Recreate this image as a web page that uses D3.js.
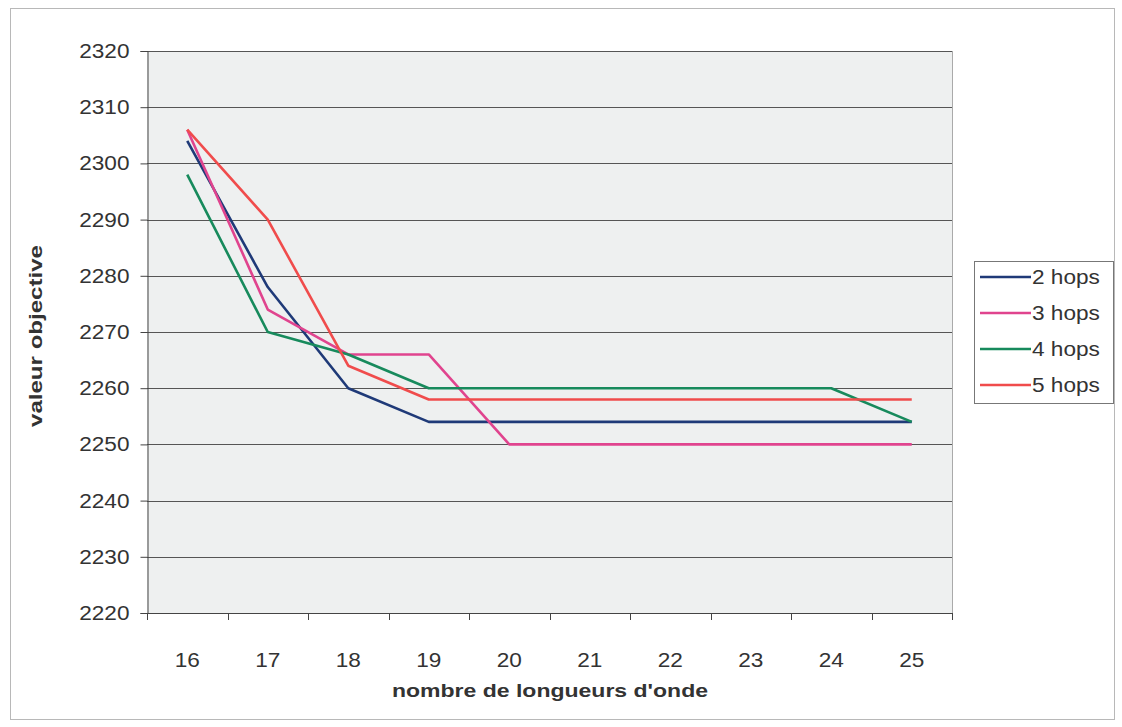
<!DOCTYPE html>
<html>
<head>
<meta charset="utf-8">
<script src="https://cdn.jsdelivr.net/npm/d3@7"></script>
<style>
  html, body { margin: 0; padding: 0; background: #ffffff; }
  svg { display: block; }
  text { font-family: "Liberation Sans", Arial, sans-serif; fill: #333; }
</style>
</head>
<body>
<svg id="chart" width="1122" height="727"></svg>
<script>
// Wavelength counts on the x axis
const categories = [16, 17, 18, 19, 20, 21, 22, 23, 24, 25];
// Objective value per number of hops
const hops2 = [2304, 2278, 2260, 2254, 2254, 2254, 2254, 2254, 2254, 2254];
const hops3 = [2306, 2274, 2266, 2266, 2250, 2250, 2250, 2250, 2250, 2250];
const hops4 = [2298, 2270, 2266, 2260, 2260, 2260, 2260, 2260, 2260, 2254];
const hops5 = [2306, 2290, 2264, 2258, 2258, 2258, 2258, 2258, 2258, 2258];
const seriesNames = ["2 hops", "3 hops", "4 hops", "5 hops"];
const yTicks = [2220, 2230, 2240, 2250, 2260, 2270, 2280, 2290, 2300, 2310, 2320];

const seriesValues = [hops2, hops3, hops4, hops5];
const colors = ["#1f3a78", "#e0448e", "#178a5c", "#f04c4c"];
const FONT = "'Liberation Sans', Arial, sans-serif";
const WIDEN = 1.13; // glyphs are drawn slightly wide

const svg = d3.select("#chart");
const plot = { left: 147, top: 51, right: 952, bottom: 613 };

// outer frame
svg.append("rect")
  .attr("x", 10.5).attr("y", 8.5).attr("width", 1104).attr("height", 711)
  .attr("fill", "#fff").attr("stroke", "#b8b8b8").attr("stroke-width", 1);

const x = d3.scaleBand().domain(categories).range([plot.left, plot.right]);
const y = d3.scaleLinear().domain([2220, 2320]).range([plot.bottom, plot.top]);

// plot background
svg.append("rect")
  .attr("x", plot.left).attr("y", plot.top)
  .attr("width", plot.right - plot.left).attr("height", plot.bottom - plot.top)
  .attr("fill", "#eef0f0");

// horizontal gridlines
svg.append("g").selectAll("line")
  .data(yTicks)
  .join("line")
  .attr("x1", plot.left).attr("x2", plot.right)
  .attr("y1", d => Math.round(y(d)) + 0.5).attr("y2", d => Math.round(y(d)) + 0.5)
  .attr("stroke", "#555").attr("stroke-width", 1);

// right border of plot area
svg.append("line")
  .attr("x1", plot.right + 0.5).attr("x2", plot.right + 0.5)
  .attr("y1", plot.top).attr("y2", plot.bottom)
  .attr("stroke", "#aaa");

// y axis
const yAxis = d3.axisLeft(y).tickValues(yTicks).tickSize(7).tickPadding(11).tickFormat(d3.format("d"));
const gy = svg.append("g").attr("transform", `translate(${plot.left + 0.5},0)`).call(yAxis);
gy.select(".domain").attr("stroke", "#444");
gy.selectAll(".tick line").attr("stroke", "#444");
gy.selectAll(".tick text").attr("font-size", 20).attr("fill", "#333")
  .attr("font-family", FONT).attr("class", "wide");

// x axis: ticks at category boundaries
const boundaries = categories.map(c => x(c)).concat([plot.right]);
const gx = svg.append("g");
gx.append("line")
  .attr("x1", plot.left).attr("x2", plot.right)
  .attr("y1", plot.bottom + 0.5).attr("y2", plot.bottom + 0.5)
  .attr("stroke", "#444");
gx.selectAll("line.tk")
  .data(boundaries)
  .join("line").attr("class", "tk")
  .attr("x1", d => Math.round(d) + 0.5).attr("x2", d => Math.round(d) + 0.5)
  .attr("y1", plot.bottom).attr("y2", plot.bottom + 7)
  .attr("stroke", "#444");
gx.selectAll("text")
  .data(categories)
  .join("text")
  .attr("class", "wide")
  .attr("x", d => x(d) + x.bandwidth() / 2)
  .attr("y", 667)
  .attr("text-anchor", "middle")
  .attr("font-size", 20)
  .text(d => d);

// series lines
const line = d3.line()
  .x((d, i) => x(categories[i]) + x.bandwidth() / 2)
  .y(d => y(d));

svg.append("g").selectAll("path")
  .data(seriesValues)
  .join("path")
  .attr("d", d => line(d))
  .attr("fill", "none")
  .attr("stroke", (d, i) => colors[i])
  .attr("stroke-width", 2.6)
  .attr("stroke-linejoin", "round");

// axis titles
svg.append("text")
  .attr("x", 550).attr("y", 697)
  .attr("text-anchor", "middle")
  .attr("font-size", 19).attr("font-weight", "bold")
  .attr("textLength", 316).attr("lengthAdjust", "spacingAndGlyphs")
  .text("nombre de longueurs d'onde");

svg.append("text")
  .attr("transform", `translate(42,336) rotate(-90)`)
  .attr("text-anchor", "middle")
  .attr("font-size", 19).attr("font-weight", "bold")
  .attr("textLength", 182).attr("lengthAdjust", "spacingAndGlyphs")
  .text("valeur objective");

// legend
const legend = svg.append("g");
legend.append("rect")
  .attr("x", 974.5).attr("y", 261.5).attr("width", 139).attr("height", 142)
  .attr("fill", "#fff").attr("stroke", "#777");
const items = legend.selectAll("g.item")
  .data(seriesNames)
  .join("g").attr("class", "item")
  .attr("transform", (d, i) => `translate(0,${277 + i * 36})`);
items.append("line")
  .attr("x1", 980).attr("x2", 1031).attr("y1", 0).attr("y2", 0)
  .attr("stroke", (d, i) => colors[i]).attr("stroke-width", 2.6);
items.append("text")
  .attr("class", "wide")
  .attr("x", 1032).attr("y", 7)
  .attr("font-size", 20)
  .text(d => d);

// widen the regular labels a little
svg.selectAll("text.wide").each(function () {
  const len = this.getComputedTextLength();
  d3.select(this).attr("textLength", len * WIDEN).attr("lengthAdjust", "spacingAndGlyphs");
});
</script>
</body>
</html>
